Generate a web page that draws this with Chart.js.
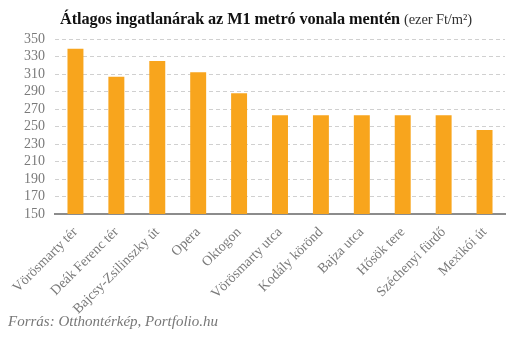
<!DOCTYPE html>
<html>
<head>
<meta charset="utf-8">
<script src="https://cdn.jsdelivr.net/npm/chart.js@4"></script>
<style>
  html, body { margin: 0; padding: 0; background: #fff; }
  #wrap { position: relative; width: 529px; height: 340px; }
  #title { position: absolute; left: 60px; top: 9px; white-space: nowrap;
    font-family: "Liberation Serif", serif; font-size: 16.3px; color: #111; letter-spacing: -0.1px; }
  #title b { font-weight: bold; }
  #title span { font-size: 14.5px; color: #333; }
  #source { position: absolute; left: 8px; top: 313px; font-family: "Liberation Serif", serif; font-style: italic;
    font-size: 15px; color: #777; }
  canvas { position: absolute; left: 0; top: 0; }
</style>
</head>
<body>
<div id="wrap">
  <canvas id="chart" width="529" height="340"></canvas>
  <div id="title"><b>Átlagos ingatlanárak az M1 metró vonala mentén</b> <span>(ezer Ft/m²)</span></div>
  <div id="source">Forrás: Otthontérkép, Portfolio.hu</div>
</div>
<script>
const stations = ['Vörösmarty tér', 'Deák Ferenc tér', 'Bajcsy-Zsilinszky út', 'Opera', 'Oktogon',
  'Vörösmarty utca', 'Kodály körönd', 'Bajza utca', 'Hősök tere', 'Széchenyi fürdő', 'Mexikói út'];
const prices = [339, 307, 325, 312, 288, 263, 263, 263, 263, 263, 246];
const yTicks = [150, 170, 190, 210, 230, 250, 270, 290, 310, 330, 350];

const serif = '"Liberation Serif", serif';

new Chart(document.getElementById('chart'), {
  type: 'bar',
  data: {
    labels: stations,
    datasets: [{
      data: prices,
      backgroundColor: '#F8A51D',
      barPercentage: 0.39,
      categoryPercentage: 1
    }]
  },
  options: {
    responsive: false,
    animation: false,
    layout: { padding: { top: 39, right: 24, left: 6, bottom: 0 } },
    plugins: { legend: { display: false }, tooltip: { enabled: false } },
    scales: {
      x: {
        grid: { display: false },
        border: { color: '#8c8c8c', width: 2 },
        afterFit: s => { s.height = 126; },
        ticks: { color: '#7a7a7a', font: { family: serif, size: 14 }, minRotation: 45, maxRotation: 45, padding: 2, autoSkip: false }
      },
      y: {
        min: yTicks[0],
        max: yTicks[yTicks.length - 1],
        afterBuildTicks: s => { s.ticks = yTicks.map(v => ({ value: v })); },
        afterFit: s => { s.width = 49; },
        grid: { color: '#d0d0d0', drawTicks: false, lineWidth: 1 },
        border: { display: false, dash: [4, 3] },
        ticks: { color: '#7a7a7a', font: { family: serif, size: 14 }, padding: 10, autoSkip: false }
      }
    }
  }
});
</script>
</body>
</html>
